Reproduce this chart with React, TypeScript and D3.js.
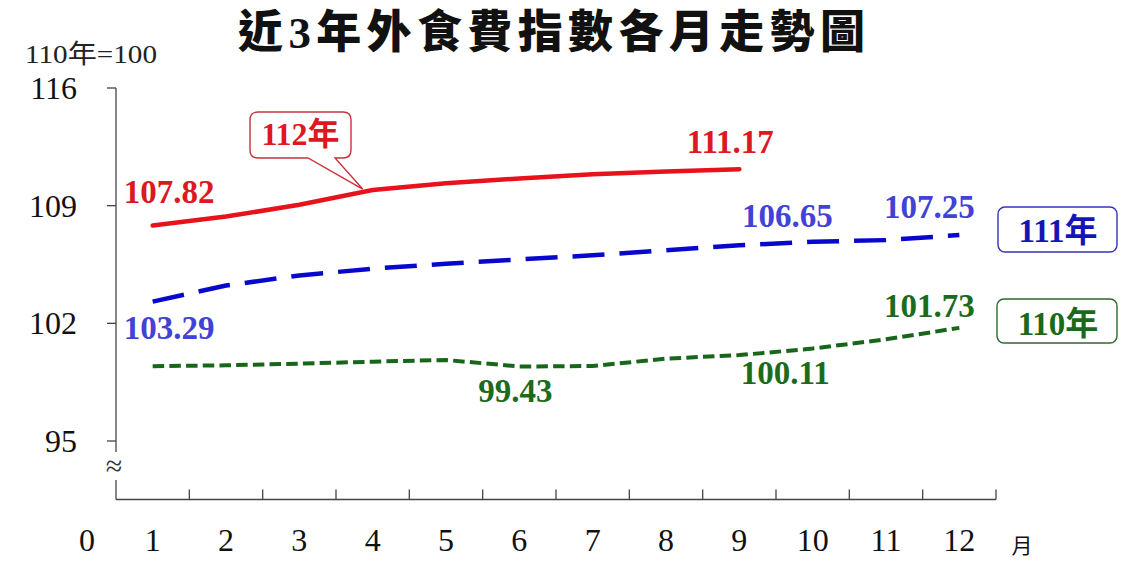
import React from "react";
import * as d3 from "d3";

const months = [1, 2, 3, 4, 5, 6, 7, 8, 9, 10, 11, 12];
const yTicks = [95, 102, 109, 116];
const series112 = [107.82, 108.35, 109.05, 109.93, 110.33, 110.62, 110.87, 111.03, 111.17];
const series111 = [103.29, 104.25, 104.85, 105.25, 105.55, 105.8, 106.05, 106.35, 106.65, 106.85, 106.95, 107.25];
const series110 = [99.45, 99.5, 99.6, 99.72, 99.82, 99.43, 99.46, 99.9, 100.11, 100.5, 101.05, 101.73];
const title = "近3年外食費指數各月走勢圖";
const unitLabel = "110年=100";
const monthUnit = "月";

const W = 1132;
const H = 569;
const FONT = "'Liberation Serif', 'Times New Roman', 'Noto Sans CJK TC', serif";

const RED_LINE = "#e8121c";
const RED_TEXT = "#dc1822";
const BLUE_LINE = "#0808cc";
const BLUE_TEXT = "#4242d6";
const GREEN_LINE = "#17661a";
const GREEN_TEXT = "#1c6b1c";

export default function App() {
  const x = d3.scaleLinear().domain([0, 12]).range([116, 996]);
  const y = d3.scaleLinear().domain([95, 116]).range([441, 88]);
  const axisBottomY = 499.5;
  const cx = (m: number) => x(m - 0.5);

  const line = d3
    .line<number>()
    .x((_, i) => cx(months[i]))
    .y((d) => y(d));

  const pt = (arr: number[], m: number) => ({ px: cx(m), py: y(arr[m - 1]) });

  const labels = [
    { s: series112, m: 1, dx: -29, dy: -23, anchor: "start", color: RED_TEXT },
    { s: series112, m: 9, dx: -9, dy: -16, anchor: "middle", color: RED_TEXT },
    { s: series111, m: 1, dx: -29, dy: 37, anchor: "start", color: BLUE_TEXT },
    { s: series111, m: 9, dx: 48, dy: -18, anchor: "middle", color: BLUE_TEXT },
    { s: series111, m: 12, dx: -30, dy: -17, anchor: "middle", color: BLUE_TEXT },
    { s: series110, m: 12, dx: -30, dy: -11, anchor: "middle", color: GREEN_TEXT },
    { s: series110, m: 9, dx: 46, dy: 29, anchor: "middle", color: GREEN_TEXT },
    { s: series110, m: 6, dx: -4, dy: 35, anchor: "middle", color: GREEN_TEXT },
  ];

  // callout for 112年 pointing to month 4 of the red line
  const tip = pt(series112, 4);
  const bx0 = 250, bx1 = 351, by0 = 112, by1 = 158, r = 8;
  const calloutPath = `M${bx0 + r},${by0} H${bx1 - r} Q${bx1},${by0} ${bx1},${by0 + r} V${by1 - r} Q${bx1},${by1} ${bx1 - r},${by1} H335 L${tip.px - 10},${tip.py - 1} L308,${by1} H${bx0 + r} Q${bx0},${by1} ${bx0},${by1 - r} V${by0 + r} Q${bx0},${by0} ${bx0 + r},${by0} Z`;

  return (
    <svg width={W} height={H} style={{ display: "block", position: "absolute", left: 0, top: 0, background: "#fff" }} fontFamily={FONT}>
      <rect x={0} y={0} width={W} height={H} fill="#fff" />
      {/* title */}
      <text x={238} y={48} textLength={627} lengthAdjust="spacing" fontSize={45} fontWeight={900} fill="#111">
        {title}
      </text>
      {/* unit */}
      <text x={25} y={63} fontSize={26} textLength={132} lengthAdjust="spacingAndGlyphs" fill="#222">{unitLabel}</text>

      {/* y axis */}
      <line x1={116} x2={116} y1={y(116)} y2={452} stroke="#444" strokeWidth={1.3} />
      <line x1={116} x2={116} y1={480} y2={axisBottomY} stroke="#444" strokeWidth={1.3} />
      <text x={114} y={476} textAnchor="middle" fontSize={30} fill="#333">≈</text>
      {yTicks.map((t) => (
        <g key={t}>
          <line x1={107} x2={116} y1={y(t)} y2={y(t)} stroke="#444" strokeWidth={1.3} />
          <text x={77} y={y(t) + 11} textAnchor="end" fontSize={32} fill="#111">{t}</text>
        </g>
      ))}

      {/* x axis */}
      <line x1={116} x2={x(12)} y1={axisBottomY} y2={axisBottomY} stroke="#444" strokeWidth={1.3} />
      {months.map((m) => (
        <g key={m}>
          <line x1={x(m)} x2={x(m)} y1={axisBottomY - 10} y2={axisBottomY} stroke="#444" strokeWidth={1.3} />
          <text x={cx(m)} y={551} textAnchor="middle" fontSize={32} fill="#111">{m}</text>
        </g>
      ))}
      <text x={x(0) - 29} y={551} textAnchor="middle" fontSize={32} fill="#111">0</text>
      <text x={1022} y={553} textAnchor="middle" fontSize={21} fill="#111">{monthUnit}</text>

      {/* lines */}
      <path d={line(series110) || ""} fill="none" stroke={GREEN_LINE} strokeWidth={4} strokeDasharray="11.5,5.2" />
      <path d={line(series111) || ""} fill="none" stroke={BLUE_LINE} strokeWidth={4.5} strokeDasharray="32,15" />
      <path d={line(series112) || ""} fill="none" stroke={RED_LINE} strokeWidth={4.5} strokeLinecap="round" />

      {/* value labels */}
      {labels.map((l, i) => {
        const p = pt(l.s, l.m);
        return (
          <text key={i} x={p.px + l.dx} y={p.py + l.dy} textAnchor={l.anchor as any} fontSize={33} fontWeight="bold" fill={l.color}>
            {l.s[l.m - 1].toFixed(2)}
          </text>
        );
      })}

      {/* 112 callout */}
      <path d={calloutPath} fill="#fff" stroke="#c8323c" strokeWidth={1.4} />
      <text x={(bx0 + bx1) / 2} y={145} textAnchor="middle" fontSize={32} fontWeight="bold" fill={RED_TEXT}>112年</text>

      {/* 111 box */}
      <rect x={998} y={207} width={119} height={45} rx={7} fill="#fff" stroke="#3434b4" strokeWidth={1.4} />
      <text x={1058} y={242} textAnchor="middle" fontSize={33} fontWeight="bold" fill="#1414b8">111年</text>

      {/* 110 box */}
      <rect x={997} y={299} width={120} height={44} rx={7} fill="#fff" stroke="#2c6a2c" strokeWidth={1.4} />
      <text x={1058} y={335} textAnchor="middle" fontSize={33} fontWeight="bold" fill="#1a6a1a">110年</text>
    </svg>
  );
}
